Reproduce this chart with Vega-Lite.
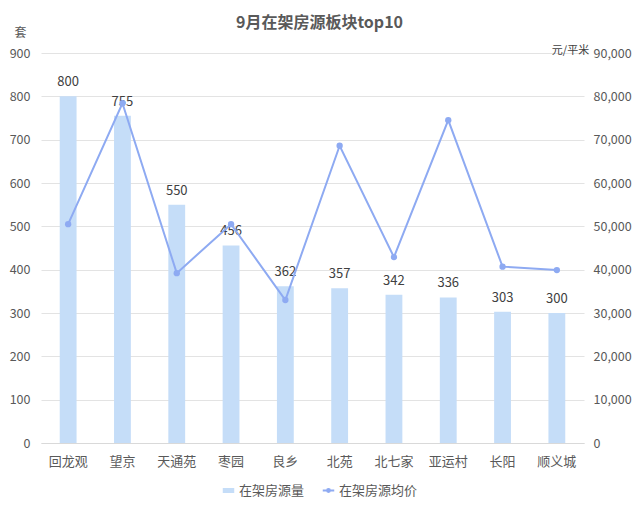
{
  "$schema": "https://vega.github.io/schema/vega-lite/v6.json",
  "autosize": {"type": "none"},
  "width": 543,
  "height": 390,
  "padding": {"left": 41, "top": 53, "right": 56, "bottom": 68},
  "background": "white",
  "config": {
    "font": "Noto Sans CJK SC",
    "view": {"stroke": null},
    "axis": {"labelFont": "Noto Sans CJK SC", "labelColor": "#595959", "labelFontSize": 12.5, "titleFont": "Noto Sans CJK SC"},
    "legend": {"labelFont": "Noto Sans CJK SC", "labelColor": "#595959", "labelFontSize": 13}
  },
  "title": {
    "text": "9月在架房源板块top10",
    "font": "Noto Sans CJK SC",
    "fontSize": 16,
    "fontWeight": "bold",
    "color": "#595959",
    "anchor": "middle",
    "dx": 7,
    "offset": -5
  },
  "data": {
    "values": [
      {"area": "回龙观", "count": 800, "price": 50500},
      {"area": "望京", "count": 755, "price": 78400},
      {"area": "天通苑", "count": 550, "price": 39200},
      {"area": "枣园", "count": 456, "price": 50500},
      {"area": "良乡", "count": 362, "price": 33000},
      {"area": "北苑", "count": 357, "price": 68600},
      {"area": "北七家", "count": 342, "price": 42900},
      {"area": "亚运村", "count": 336, "price": 74500},
      {"area": "长阳", "count": 303, "price": 40700},
      {"area": "顺义城", "count": 300, "price": 39900}
    ]
  },
  "encoding": {
    "x": {
      "field": "area",
      "type": "nominal",
      "sort": null,
      "scale": {"paddingInner": 0.69, "paddingOuter": 0.345},
      "axis": {"title": null, "labelAngle": 0, "ticks": false, "domainColor": "#d9d9d9", "labelPadding": 12, "labelFontSize": 13}
    }
  },
  "layer": [
    {
      "encoding": {
        "y": {
          "field": "count",
          "type": "quantitative",
          "scale": {"domain": [0, 900]},
          "axis": {
            "title": "套",
            "titleAngle": 0,
            "titleX": -21,
            "titleY": -21,
            "titleAlign": "center",
            "titleBaseline": "middle",
            "titleFontSize": 12,
            "titleFontWeight": "normal",
            "titleColor": "#595959",
            "values": [0, 100, 200, 300, 400, 500, 600, 700, 800, 900],
            "labelOverlap": false,
            "domain": false,
            "ticks": false,
            "labelPadding": 11,
            "gridColor": "#e3e3e3"
          }
        }
      },
      "layer": [
        {
          "mark": {"type": "bar"},
          "encoding": {
            "fill": {
              "datum": "在架房源量",
              "type": "nominal",
              "scale": {"range": ["#c5ddf8"]},
              "legend": {
                "title": null,
                "orient": "none",
                "legendX": 181,
                "legendY": 431,
                "symbolType": "M-1.15,-0.5H1.15V0.5H-1.15Z",
                "symbolSize": 100,
                "symbolStrokeWidth": 0,
                "labelOffset": 4
              }
            }
          }
        },
        {
          "mark": {"type": "text", "dy": -14, "fontSize": 13, "color": "#404040"},
          "encoding": {
            "text": {"field": "count", "type": "quantitative"}
          }
        }
      ]
    },
    {
      "encoding": {
        "y": {
          "field": "price",
          "type": "quantitative",
          "scale": {"domain": [0, 90000]},
          "axis": {
            "orient": "right",
            "title": "元/平米",
            "titleAngle": 0,
            "titleX": -14,
            "titleY": -3,
            "titleAlign": "center",
            "titleBaseline": "middle",
            "titleFontSize": 11,
            "titleFontWeight": "normal",
            "titleColor": "#404040",
            "values": [0, 10000, 20000, 30000, 40000, 50000, 60000, 70000, 80000, 90000],
            "labelOverlap": false,
            "format": ",d",
            "grid": false,
            "domain": false,
            "ticks": false,
            "labelPadding": 9
          }
        }
      },
      "layer": [
        {
          "mark": {"type": "line", "strokeWidth": 2},
          "encoding": {
            "stroke": {
              "datum": "在架房源均价",
              "type": "nominal",
              "scale": {"range": ["#8eaaf2"]},
              "legend": {
                "title": null,
                "orient": "none",
                "legendX": 281,
                "legendY": 431,
                "symbolType": "M-1.15,0H1.15M-0.28,0A0.28,0.28 0 1 1 0.28,0A0.28,0.28 0 1 1 -0.28,0Z",
                "symbolSize": 100,
                "symbolStrokeWidth": 2,
                "symbolFillColor": "#8eaaf2",
                "labelOffset": 4
              }
            }
          }
        },
        {
          "mark": {"type": "point", "filled": true, "size": 40, "color": "#8eaaf2", "opacity": 1}
        }
      ]
    }
  ],
  "resolve": {"scale": {"y": "independent"}}
}
